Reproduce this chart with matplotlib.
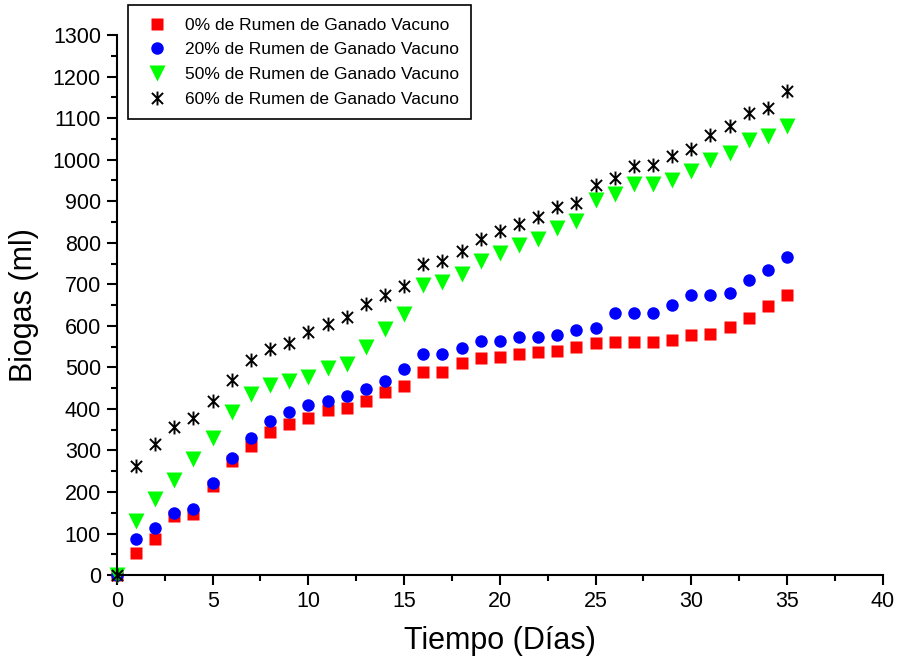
import matplotlib
matplotlib.use("Agg")
import matplotlib.pyplot as plt
from matplotlib.ticker import MultipleLocator
from matplotlib.path import Path

plt.rcParams['font.family'] = ['Liberation Sans', 'DejaVu Sans']

dias = list(range(0, 36))
rumen_0 = [0, 53, 88, 143, 148, 215, 275, 310, 345, 363, 378, 398, 402, 420, 440, 455,
           490, 490, 510, 523, 525, 533, 537, 540, 548, 558, 560, 562, 562, 567, 577,
           580, 598, 620, 648, 673]
rumen_20 = [0, 88, 113, 150, 160, 222, 283, 330, 372, 392, 410, 420, 430, 448, 468, 495,
            532, 532, 547, 563, 563, 573, 573, 578, 590, 595, 630, 630, 630, 650, 673,
            675, 678, 710, 735, 765]
rumen_50 = [0, 130, 183, 228, 280, 330, 393, 437, 458, 467, 477, 498, 508, 550, 592, 628,
            698, 705, 725, 757, 775, 795, 810, 835, 853, 903, 917, 942, 942, 952, 972,
            1000, 1015, 1048, 1058, 1080]
rumen_60 = [0, 262, 315, 357, 377, 418, 470, 518, 545, 558, 585, 605, 622, 652, 675, 697,
            750, 755, 780, 808, 828, 845, 862, 885, 895, 940, 957, 985, 988, 1008, 1025,
            1060, 1080, 1112, 1125, 1165]
etiquetas = ["0% de Rumen de Ganado Vacuno", "20% de Rumen de Ganado Vacuno",
             "50% de Rumen de Ganado Vacuno", "60% de Rumen de Ganado Vacuno"]

# asterisco: vertical + dos diagonales
d = 0.8
asterisco = Path([(0, -1), (0, 1), (-d, -d), (d, d), (-d, d), (d, -d)],
                 [Path.MOVETO, Path.LINETO] * 3)

fig = plt.figure(figsize=(8.99, 6.61), dpi=100)
ax = fig.add_axes([0.130, 0.130, 0.852, 0.817])

ax.plot(dias, rumen_0, 's', color='#ff0000', markersize=8, mec='none', label=etiquetas[0], clip_on=False)
ax.plot(dias, rumen_20, 'o', color='#0000ff', markersize=9, mec='none', label=etiquetas[1], clip_on=False)
ax.plot(dias, rumen_50, 'v', color='#00ff00', markersize=11, mec='none', label=etiquetas[2], clip_on=False)
ax.plot(dias, rumen_60, ls='none', marker=asterisco, color='black', markersize=10, mew=1.4,
        label=etiquetas[3], clip_on=False)

ax.set_xlim(0, 40)
ax.set_ylim(0, 1300)
ax.xaxis.set_major_locator(MultipleLocator(5))
ax.xaxis.set_minor_locator(MultipleLocator(2.5))
ax.yaxis.set_major_locator(MultipleLocator(100))
ax.yaxis.set_minor_locator(MultipleLocator(50))
ax.tick_params(which='major', direction='out', length=7.5, width=1.5, labelsize=15.5, pad=4)
ax.tick_params(which='minor', direction='out', length=4, width=1.5)
for s in ['top', 'right']:
    ax.spines[s].set_visible(False)
for s in ['left', 'bottom']:
    ax.spines[s].set_linewidth(1.5)

ax.set_xlabel("Tiempo (Días)", fontsize=22, labelpad=10)
ax.set_ylabel("Biogas (ml)", fontsize=22, labelpad=10)

leg = ax.legend(loc='upper left', bbox_to_anchor=(0.142, 0.992), bbox_transform=fig.transFigure,
                fancybox=False, edgecolor='black', framealpha=1, fontsize=12.5,
                handletextpad=0.6, borderpad=0.7, labelspacing=0.55, borderaxespad=0)
leg.get_frame().set_linewidth(1.2)

fig.savefig("out.png", dpi=100)
